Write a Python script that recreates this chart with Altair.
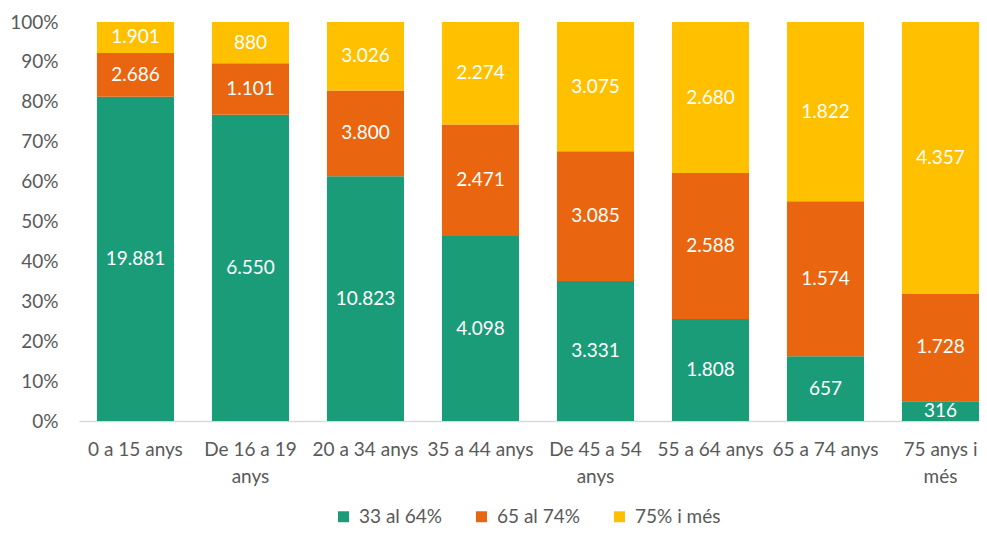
import altair as alt
import pandas as pd

categories = ["0 a 15 anys", "De 16 a 19\nanys", "20 a 34 anys", "35 a 44 anys",
              "De 45 a 54\nanys", "55 a 64 anys", "65 a 74 anys", "75 anys i\nmés"]
series = ["33 al 64%", "65 al 74%", "75% i més"]
green_vals = [19881, 6550, 10823, 4098, 3331, 1808, 657, 316]
orange_vals = [2686, 1101, 3800, 2471, 3085, 2588, 1574, 1728]
yellow_vals = [1901, 880, 3026, 2274, 3075, 2680, 1822, 4357]
y_ticks = [0, 0.1, 0.2, 0.3, 0.4, 0.5, 0.6, 0.7, 0.8, 0.9, 1.0]
colors = ["#1b9c78", "#e9650f", "#ffc000"]

rows = []
for si, (s, vals) in enumerate(zip(series, [green_vals, orange_vals, yellow_vals])):
    for c, v in zip(categories, vals):
        rows.append({"cat": c, "serie": s, "ord": si, "value": v,
                     "label": f"{v:,}".replace(",", ".")})
df = pd.DataFrame(rows)

FONT = "Lato"
GRAY = "#595959"
FS = 19

base = alt.Chart(df).transform_stack(
    stack="value", groupby=["cat"], as_=["y0", "y1"], offset="normalize",
    sort=[alt.SortField("ord", order="ascending")]
).transform_calculate(mid="(datum.y0 + datum.y1) / 2")

xscale = alt.Scale(paddingInner=0.33, paddingOuter=0.078, align=1)
yscale = alt.Scale(domain=[0, 1], nice=False)

xaxis = alt.Axis(labelAngle=0, ticks=False, domainColor="#d9d9d9", domainWidth=1.5,
                 labelExpr="split(datum.label, '\\n')", labelFontSize=FS,
                 labelColor=GRAY, labelFont=FONT, labelPadding=19,
                 labelLineHeight=27, labelLimit=200, grid=False, labelOverlap=False)
yaxis = alt.Axis(format="%", values=y_ticks, grid=False, tickCount=11,
                 domain=False, ticks=False, labelFontSize=FS, labelColor=GRAY,
                 labelFont=FONT, labelPadding=21, labelOverlap=False)

bars = base.mark_bar().encode(
    x=alt.X("cat:N", sort=categories, title=None, scale=xscale, axis=xaxis),
    y=alt.Y("y0:Q", title=None, scale=yscale, axis=yaxis),
    y2="y1:Q",
    color=alt.Color("serie:N", sort=series,
                    scale=alt.Scale(domain=series, range=colors),
                    legend=alt.Legend(title=None, orient="none", direction="horizontal",
                                      legendX=255, legendY=485, symbolType="square",
                                      symbolSize=120, symbolStrokeWidth=0,
                                      labelFontSize=FS, labelColor=GRAY, labelFont=FONT,
                                      columnPadding=30, labelOffset=6)),
)

text = base.mark_text(color="white", fontSize=FS, font=FONT).encode(
    x=alt.X("cat:N", sort=categories, title=None, scale=xscale, axis=xaxis),
    y=alt.Y("mid:Q", title=None, scale=yscale, axis=yaxis),
    text="label:N",
)

chart = alt.layer(bars, text).properties(
    width=900, height=399,
    autosize=alt.AutoSizeParams(type="none"),
    padding={"left": 71, "top": 14, "right": 0, "bottom": 105},
).configure_view(stroke=None)

chart.save("out.html", embed_options={"renderer": "svg", "actions": False})
